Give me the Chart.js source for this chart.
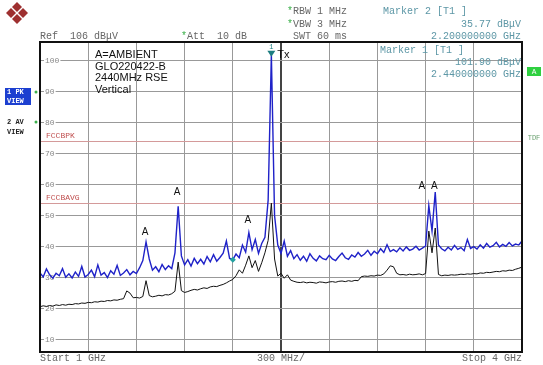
<!DOCTYPE html>
<html>
<head>
<meta charset="utf-8">
<script src="https://cdn.jsdelivr.net/npm/chart.js@4/dist/chart.umd.min.js"></script>
<style>
  html, body { margin: 0; padding: 0; background: #fff; }
  #wrap { width: 543px; height: 365px; position: relative; }
</style>
</head>
<body>
<div id="wrap"><canvas id="canvas" width="543" height="365"></canvas></div>
<script>
// sweep points, 20 MHz apart, 1 GHz .. 4 GHz
var FREQS = [];
for (var f = 1000; f <= 4000; f += 20) FREQS.push(f);

// trace 1, max peak (dBuV)
var PK_TRACE = [
  31.5, 30.2, 32.8, 30.9, 29.8, 31.4, 30.6, 32.9, 30.1, 31.2,
  29.9, 31.8, 30.4, 33.6, 30.2, 31.0, 32.4, 30.3, 34.1, 30.8,
  31.6, 30.0, 32.2, 31.1, 33.9, 30.7, 31.5, 32.6, 30.9, 32.0,
  31.3, 33.2, 35.5, 41.5, 36.0, 32.4, 33.5, 31.9, 34.2, 32.6,
  33.8, 32.9, 38.0, 53.0, 37.0, 34.1, 35.8, 33.7, 36.2, 34.5,
  35.9, 34.4, 36.8, 35.1, 37.4, 35.3, 36.5, 37.9, 41.8, 36.2,
  35.8, 37.6, 36.4, 40.5, 38.2, 44.5, 39.0, 42.3, 37.8, 41.0,
  43.0, 55.0, 101.9, 50.0, 40.5, 37.8, 41.8, 36.9, 38.7, 36.1,
  37.4, 35.6, 36.9, 35.3, 37.7, 36.2, 35.4, 37.0, 36.1, 35.8,
  37.2, 36.0, 35.5, 36.8, 37.9, 36.4, 35.9, 37.3, 36.6, 38.1,
  36.9, 37.6, 38.8, 37.2, 38.5, 37.7, 39.3, 38.1, 40.6, 38.4,
  39.0, 38.3, 39.6, 38.6, 39.9, 38.8, 39.2, 40.1, 38.9, 39.5,
  40.2, 53.2, 45.0, 57.6, 40.5, 39.3, 38.6, 39.8, 38.9, 40.4,
  39.1, 39.7, 38.7, 42.3, 39.4, 40.0, 39.2, 40.6, 39.5, 41.0,
  39.8, 40.3, 41.4, 39.9, 40.7, 40.1, 41.3, 40.2, 40.8, 40.5,
  41.8
];

// trace 2, average (dBuV)
var AV_TRACE = [
  20.6, 20.9, 20.7, 21.0, 20.8, 21.2, 21.0, 21.3, 21.1, 21.4,
  21.3, 21.6, 21.5, 21.8, 21.7, 22.0, 21.9, 22.2, 22.1, 22.4,
  22.3, 22.6, 22.5, 22.8, 22.7, 23.0, 23.2, 25.7, 25.0, 23.5,
  23.6, 23.4, 23.9, 29.0, 24.2, 23.8, 24.0, 24.3, 24.1, 24.5,
  24.4, 24.8, 25.6, 35.0, 25.8, 25.2, 25.5, 25.9, 26.2, 26.0,
  26.4, 26.7, 26.5, 27.0, 27.2, 27.1, 27.5, 27.8, 28.3, 28.9,
  29.4, 30.6, 32.5, 31.4, 34.0, 37.0, 33.2, 35.5, 32.0, 34.8,
  38.0, 42.0, 54.0, 36.0, 30.5, 31.4, 29.8, 30.9, 29.2, 28.8,
  28.5, 28.4, 28.6, 28.3, 28.5, 28.4, 28.2, 28.6, 28.5, 28.3,
  28.6, 28.7, 28.5, 28.8, 28.9, 28.7, 29.0, 28.8, 29.1, 29.0,
  30.3, 30.5, 30.4, 30.6, 30.5, 30.8, 30.7, 31.2, 32.4, 33.8,
  33.5, 31.4, 30.9, 31.0, 30.8, 31.1, 30.9, 31.0, 31.2, 30.9,
  31.3, 45.0, 38.0, 46.0, 31.0, 30.6, 30.8, 30.7, 30.9, 30.8,
  30.9, 31.1, 31.0, 31.2, 31.1, 31.3, 31.2, 31.5, 31.4, 31.7,
  31.6, 31.8, 32.0, 31.9, 32.2, 32.1, 32.4, 32.3, 32.7, 33.0,
  33.4
];

var Y_TICKS = [10, 20, 30, 40, 50, 60, 70, 80, 90, 100];
var X_TICKS = [1000, 1300, 1600, 1900, 2200, 2500, 2800, 3100, 3400, 3700, 4000];
var LIMIT_NAMES = ['FCCBPK', 'FCCBAVG'];
var LIMIT_VALUES = [74, 54];
var AMB_FREQS = [1660, 1860, 2300, 3420, 3460];   // peaks tagged "A"
var AMB_LEVELS = [43, 56, 47, 58, 58];            // where each "A" sits (dBuV)
var MARKER1 = [2440, 101.9];
var MARKER2 = [2200, 35.77];

function toXY(arr) {
  return FREQS.map(function(f, i) { return {x: f, y: arr[i]}; });
}

var MONO = '"Liberation Mono", "DejaVu Sans Mono", monospace';
var SANS = '"Liberation Sans", Arial, sans-serif';

var overlay = {
  id: 'overlay',
  beforeDraw: function(chart) {
    var c = chart.ctx;
    c.save();
    c.fillStyle = '#fff';
    c.fillRect(0, 0, chart.width, chart.height);
    c.restore();
  },
  beforeDatasetsDraw: function(chart) {
    var c = chart.ctx, a = chart.chartArea;
    var ys = chart.scales.y;
    c.save();
    // y labels sitting on the grid
    c.font = '8px ' + MONO;
    c.textBaseline = 'middle';
    Y_TICKS.forEach(function(v) {
      var y = ys.getPixelForValue(v);
      var s = String(v);
      var w = c.measureText(s).width;
      c.fillStyle = '#fff';
      c.fillRect(a.left + 4, y - 4, w + 2, 8);
      c.fillStyle = '#888';
      c.fillText(s, a.left + 5, y + 0.5);
    });
    // limit lines
    LIMIT_NAMES.forEach(function(n, i) {
      var y = Math.round(ys.getPixelForValue(LIMIT_VALUES[i])) + 0.5;
      c.strokeStyle = '#d49a9a';
      c.lineWidth = 1;
      c.beginPath();
      c.moveTo(a.left, y);
      c.lineTo(a.right, y);
      c.stroke();
      c.fillStyle = '#c05050';
      c.font = '8px ' + MONO;
      c.fillText(n, a.left + 6, y - 6);
    });
    c.restore();
  },
  afterDraw: function(chart) {
    var c = chart.ctx, a = chart.chartArea;
    var xs = chart.scales.x, ys = chart.scales.y;
    c.save();

    // frame
    c.strokeStyle = '#111';
    c.lineWidth = 2;
    c.strokeRect(a.left, a.top, a.right - a.left, a.bottom - a.top);

    // "A" tags above peaks
    c.fillStyle = '#111';
    c.font = '10px ' + SANS;
    c.textAlign = 'center';
    c.textBaseline = 'bottom';
    AMB_FREQS.forEach(function(f, i) {
      var x = xs.getPixelForValue(f);
      var y = ys.getPixelForValue(AMB_LEVELS[i]);
      c.fillText('A', i === 3 ? x - 7 : x - 1, y);
    });

    // marker 1 (Tx)
    var mx = xs.getPixelForValue(MARKER1[0]);
    var my = ys.getPixelForValue(MARKER1[1]);
    c.fillStyle = '#1d7d80';
    c.beginPath();
    c.moveTo(mx - 4, my - 4);
    c.lineTo(mx + 4, my - 4);
    c.lineTo(mx, my + 2);
    c.closePath();
    c.fill();
    c.font = '7px ' + MONO;
    c.fillText('1', mx, my - 4);
    c.fillStyle = '#111';
    c.font = '11px ' + SANS;
    c.textAlign = 'left';
    c.textBaseline = 'middle';
    c.fillText('Tx', mx + 6, my);

    // marker 2
    var m2x = xs.getPixelForValue(MARKER2[0]);
    var m2y = ys.getPixelForValue(MARKER2[1]);
    c.fillStyle = '#22a0a0';
    c.beginPath();
    c.moveTo(m2x, m2y - 3);
    c.lineTo(m2x + 3, m2y);
    c.lineTo(m2x, m2y + 3);
    c.lineTo(m2x - 3, m2y);
    c.closePath();
    c.fill();

    // note block
    c.fillStyle = '#111';
    c.font = '11px ' + SANS;
    ['A=AMBIENT', 'GLO220422-B', '2440MHz RSE', 'Vertical'].forEach(function(t, i) {
      c.fillText(t, 95, 55 + i * 11.5);
    });

    // header
    c.font = '10px ' + MONO;
    c.fillStyle = '#666';
    c.textAlign = 'left';
    c.fillText('Ref  106 dB\u03bcV', 40, 36);
    c.fillText('Att  10 dB', 187, 36);
    c.fillText('RBW 1 MHz', 293, 11);
    c.fillText('VBW 3 MHz', 293, 24);
    c.fillText('SWT 60 ms', 293, 36);
    c.fillStyle = '#3cb04a';
    c.fillText('*', 181, 36);
    c.fillText('*', 287, 11);
    c.fillText('*', 287, 24);

    c.fillStyle = '#5d97a6';
    c.fillText('Marker 2 [T1 ]', 383, 11);
    c.fillText('Marker 1 [T1 ]', 380, 50);
    c.textAlign = 'right';
    c.fillText('35.77 dB\u03bcV', 521, 24);
    c.fillText('2.200000000 GHz', 521, 36);
    c.fillText('101.90 dB\u03bcV', 521, 62);
    c.fillText('2.440000000 GHz', 521, 74);

    // footer
    c.fillStyle = '#666';
    c.textAlign = 'left';
    c.fillText('Start 1 GHz', 40, 358);
    c.textAlign = 'center';
    c.fillText('300 MHz/', 281, 358);
    c.textAlign = 'right';
    c.fillText('Stop 4 GHz', 522, 358);

    // side panel
    c.fillStyle = '#1c3fd0';
    c.fillRect(5, 88, 26, 17);
    c.font = 'bold 7px ' + MONO;
    c.textAlign = 'left';
    c.fillStyle = '#fff';
    c.fillText('1 PK', 7, 92);
    c.fillText('VIEW', 7, 101);
    c.fillStyle = '#222';
    c.fillText('2 AV', 7, 122);
    c.fillText('VIEW', 7, 132);
    c.fillStyle = '#3cb04a';
    c.beginPath(); c.arc(36, 92, 1.5, 0, Math.PI * 2); c.fill();
    c.beginPath(); c.arc(36, 122, 1.5, 0, Math.PI * 2); c.fill();

    // right side
    c.fillStyle = '#2fd040';
    c.fillRect(527, 67, 14, 9);
    c.fillStyle = '#fff';
    c.font = '7px ' + SANS;
    c.textAlign = 'center';
    c.fillText('A', 534, 72);
    c.fillStyle = '#6aa070';
    c.font = '7px ' + MONO;
    c.fillText('TDF', 534, 138);

    // logo
    c.fillStyle = '#9e3030';
    [[17, 7], [11, 13], [23, 13], [17, 19]].forEach(function(p) {
      c.beginPath();
      c.moveTo(p[0], p[1] - 5);
      c.lineTo(p[0] + 5, p[1]);
      c.lineTo(p[0], p[1] + 5);
      c.lineTo(p[0] - 5, p[1]);
      c.closePath();
      c.fill();
    });

    c.restore();
  }
};

window.onload = function() {
  var ctx = document.getElementById('canvas').getContext('2d');
  window.myChart = new Chart(ctx, {
    type: 'line',
    data: {
      datasets: [{
        label: '1 PK',
        data: toXY(PK_TRACE),
        borderColor: '#1f22c8',
        borderWidth: 1.4,
        pointRadius: 0,
        tension: 0
      }, {
        label: '2 AV',
        data: toXY(AV_TRACE),
        borderColor: '#111',
        borderWidth: 1,
        pointRadius: 0,
        tension: 0
      }]
    },
    options: {
      responsive: false,
      animation: false,
      layout: { padding: { left: 40, right: 21, top: 42, bottom: 13 } },
      plugins: { legend: { display: false }, tooltip: { enabled: false } },
      scales: {
        x: {
          type: 'linear',
          min: 1000,
          max: 4000,
          afterBuildTicks: function(s) { s.ticks = X_TICKS.map(function(v) { return {value: v}; }); },
          ticks: { display: false },
          border: { display: false },
          grid: {
            drawTicks: false,
            color: function(c) { return c.tick && c.tick.value === 2500 ? '#444' : '#999'; },
            lineWidth: function(c) { return c.tick && c.tick.value === 2500 ? 2 : 1; }
          }
        },
        y: {
          min: 6,
          max: 106,
          afterBuildTicks: function(s) { s.ticks = Y_TICKS.map(function(v) { return {value: v}; }); },
          ticks: { display: false },
          border: { display: false },
          grid: { drawTicks: false, color: '#999', lineWidth: 1 }
        }
      }
    },
    plugins: [overlay]
  });
};
</script>
</body>
</html>
